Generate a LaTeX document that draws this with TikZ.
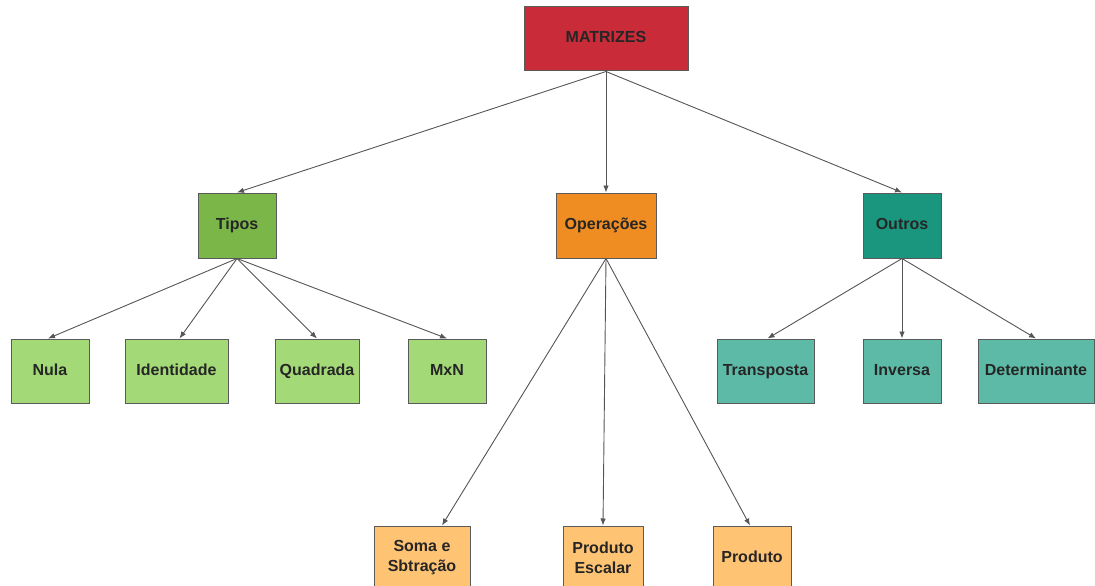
\documentclass[tikz,border=0pt]{standalone}
\usepackage{fontspec}
\setmainfont{Liberation Sans}
\usetikzlibrary{arrows.meta}
\definecolor{cRed}{HTML}{C92B39}
\definecolor{cGreen}{HTML}{7AB648}
\definecolor{cOrange}{HTML}{EF8D22}
\definecolor{cTeal}{HTML}{19967D}
\definecolor{cLGreen}{HTML}{A3D977}
\definecolor{cLTeal}{HTML}{5CBAA6}
\definecolor{cLOrange}{HTML}{FFC374}
\definecolor{cBorder}{HTML}{5A5A5A}
\definecolor{cLine}{HTML}{555555}
\begin{document}
\begin{tikzpicture}[x=1pt,y=-1pt,
  boxbase/.style={draw=cBorder,line width=1pt,minimum height=64pt,inner sep=0pt,align=center,
    font=\fontsize{16}{20}\selectfont\bfseries,text=black!85},
  box/.style={boxbase,text height=11.5pt,text depth=3.5pt},
  conn/.style={draw=cLine,line width=0.9pt,-{Latex[length=7pt,width=5.5pt]}}]
\useasboundingbox (0,0) rectangle (1095,586);
\node[box,fill=cRed,minimum width=164pt] (mat) at (606,39) {MATRIZES};
\node[box,fill=cGreen,minimum width=78pt,minimum height=65pt] (tipos) at (237,225.5) {Tipos};
\node[box,fill=cOrange,minimum width=100pt,minimum height=65pt] (ops) at (606,225.5) {Operações};
\node[box,fill=cTeal,minimum width=78pt,minimum height=65pt] (outros) at (902,225.5) {Outros};
\node[box,fill=cLGreen,minimum width=78pt] (nula) at (50,371) {Nula};
\node[box,fill=cLGreen,minimum width=103pt] (ident) at (176.5,371) {Identidade};
\node[box,fill=cLGreen,minimum width=84pt] (quad) at (317,371) {Quadrada};
\node[box,fill=cLGreen,minimum width=78pt] (mxn) at (447,371) {MxN};
\node[box,fill=cLTeal,minimum width=97pt] (transp) at (765.5,371) {Transposta};
\node[box,fill=cLTeal,minimum width=78pt] (inv) at (902,371) {Inversa};
\node[box,fill=cLTeal,minimum width=116pt] (det) at (1036,371) {Determinante};
\node[boxbase,fill=cLOrange,minimum width=96pt] (soma) at (422,558) {Soma e\\Sbtração};
\node[boxbase,fill=cLOrange,minimum width=80pt] (esc) at (603,558) {Produto\\Escalar};
\node[box,fill=cLOrange,minimum width=78pt] (prod) at (752,558) {Produto};
\draw[conn] (mat.south) -- (tipos.north);
\draw[conn] (mat.south) -- (ops.north);
\draw[conn] (mat.south) -- (outros.north);
\draw[conn] (tipos.south) -- ([xshift=-2pt]nula.north);
\draw[conn] (tipos.south) -- ([xshift=3pt]ident.north);
\draw[conn] (tipos.south) -- (quad.north);
\draw[conn] (tipos.south) -- (mxn.north);
\draw[conn] (ops.south) -- ([xshift=20pt]soma.north);
\draw[conn] (ops.south) -- (esc.north);
\draw[conn] (ops.south) -- ([xshift=-2pt]prod.north);
\draw[conn] (outros.south) -- ([xshift=2pt]transp.north);
\draw[conn] (outros.south) -- (inv.north);
\draw[conn] (outros.south) -- (det.north);
\end{tikzpicture}
\end{document}
